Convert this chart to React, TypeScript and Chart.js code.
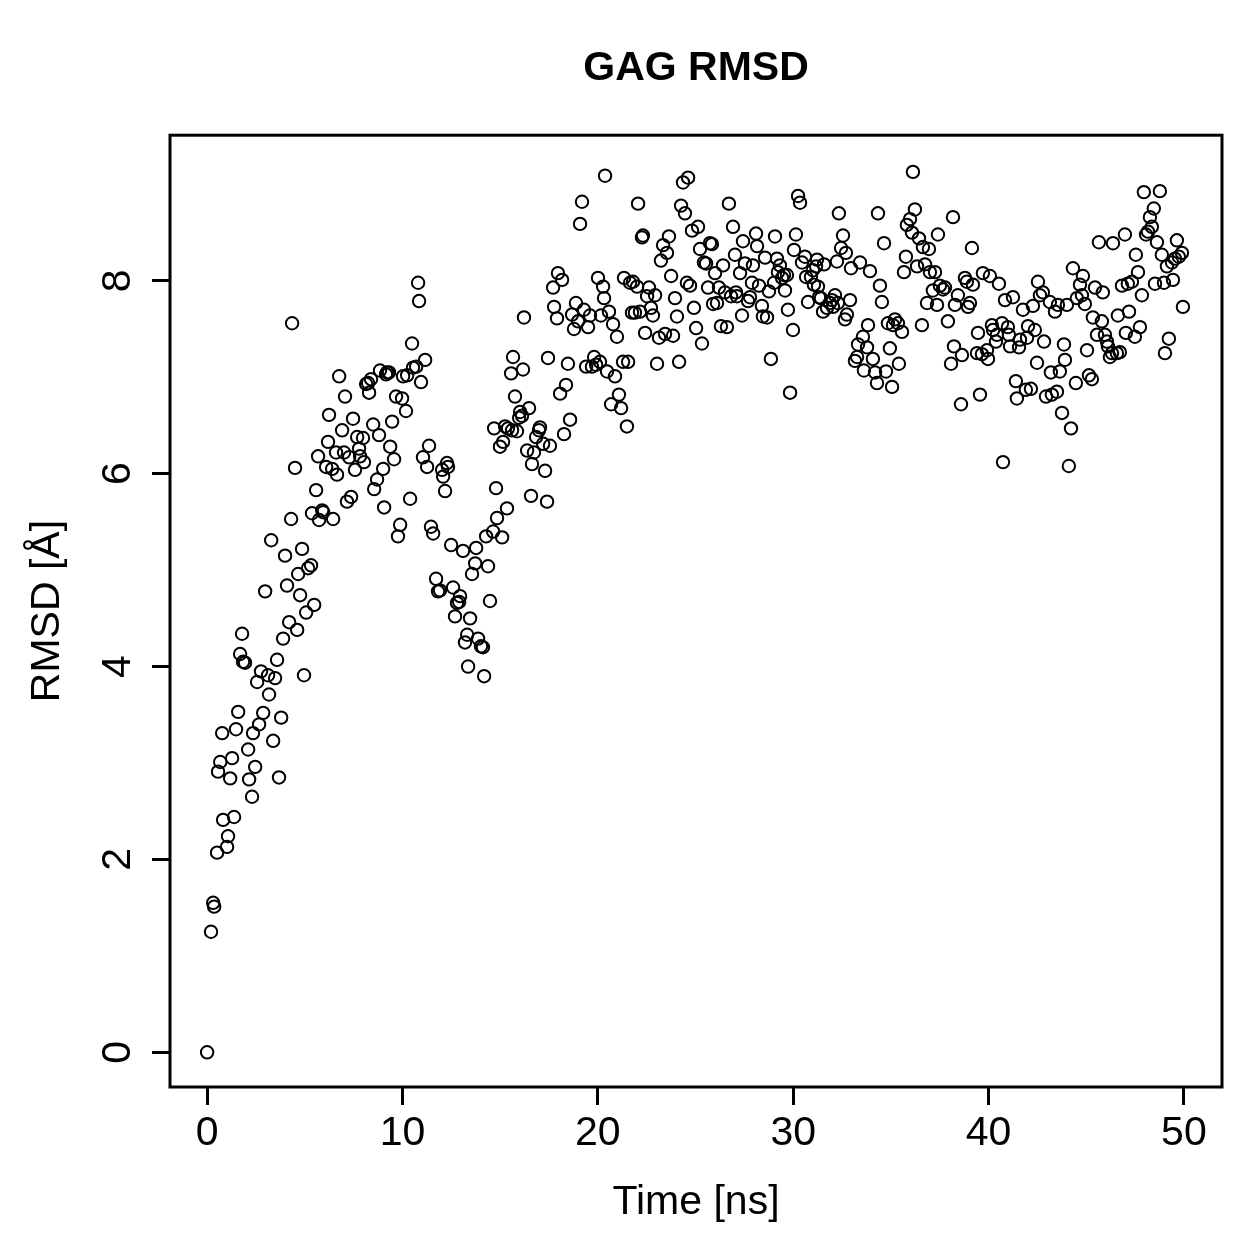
import React, { useEffect, useRef } from "react";
import { Chart, registerables } from "chart.js";

Chart.register(...registerables);

const chartTitle = "GAG RMSD";
const xAxisTitle = "Time [ns]";
const yAxisTitle = "RMSD [Å]";
const xTickValues = [0, 10, 20, 30, 40, 50];
const yTickValues = [0, 2, 4, 6, 8];

const timeNs = [
  0, 0.2, 0.31, 0.36, 0.51, 0.56, 0.67, 0.77, 0.82, 1.02, 1.07, 1.18, 1.28, 1.38, 1.48, 1.59, 1.69, 1.79, 1.84, 1.94,
  2.1, 2.15, 2.3, 2.35, 2.46, 2.56, 2.66, 2.76, 2.87, 2.97, 3.12, 3.17, 3.28, 3.38, 3.48, 3.58, 3.68, 3.79, 3.89, 3.99,
  4.09, 4.2, 4.3, 4.35, 4.5, 4.61, 4.66, 4.76, 4.86, 4.96, 5.07, 5.17, 5.32, 5.37, 5.48, 5.58, 5.68, 5.73, 5.89, 5.94,
  6.09, 6.19, 6.24, 6.4, 6.45, 6.6, 6.65, 6.76, 6.91, 7.01, 7.06, 7.16, 7.27, 7.37, 7.47, 7.57, 7.68, 7.78, 7.83, 7.98,
  8.03, 8.14, 8.24, 8.29, 8.39, 8.5, 8.55, 8.7, 8.8, 8.85, 9.01, 9.06, 9.16, 9.21, 9.31, 9.37, 9.47, 9.57, 9.67, 9.77,
  9.88, 9.98, 10.03, 10.18, 10.24, 10.39, 10.49, 10.54, 10.7, 10.8, 10.85, 10.95, 11.05, 11.16, 11.26, 11.36, 11.46, 11.57, 11.72, 11.82,
  11.92, 12.03, 12.08, 12.18, 12.28, 12.33, 12.49, 12.59, 12.69, 12.79, 12.9, 12.95, 13.1, 13.2, 13.31, 13.36, 13.46, 13.56, 13.72, 13.77,
  13.87, 14.02, 14.12, 14.18, 14.28, 14.38, 14.48, 14.64, 14.69, 14.79, 14.84, 14.99, 15.1, 15.15, 15.25, 15.35, 15.4, 15.56, 15.61, 15.66,
  15.76, 15.86, 15.97, 16.02, 16.12, 16.17, 16.22, 16.38, 16.48, 16.58, 16.63, 16.73, 16.84, 16.99, 17.04, 17.2, 17.3, 17.4, 17.45, 17.55,
  17.71, 17.76, 17.91, 17.96, 18.07, 18.17, 18.27, 18.37, 18.47, 18.58, 18.68, 18.78, 18.88, 18.99, 19.09, 19.19, 19.29, 19.4, 19.5, 19.6,
  19.7, 19.81, 19.91, 20.01, 20.11, 20.16, 20.27, 20.32, 20.37, 20.47, 20.57, 20.68, 20.78, 20.88, 20.98, 21.08, 21.19, 21.29, 21.34, 21.49,
  21.55, 21.65, 21.75, 21.8, 21.9, 22.01, 22.06, 22.16, 22.26, 22.31, 22.42, 22.52, 22.62, 22.72, 22.82, 22.93, 23.03, 23.13, 23.23, 23.34,
  23.44, 23.54, 23.64, 23.75, 23.85, 23.95, 24.05, 24.16, 24.26, 24.36, 24.46, 24.56, 24.62, 24.72, 24.82, 24.92, 25.03, 25.13, 25.23, 25.33,
  25.43, 25.54, 25.64, 25.74, 25.84, 25.9, 26.0, 26.1, 26.2, 26.3, 26.41, 26.51, 26.61, 26.71, 26.82, 26.92, 27.02, 27.07, 27.12, 27.28,
  27.38, 27.43, 27.53, 27.69, 27.79, 27.89, 27.94, 28.1, 28.15, 28.25, 28.4, 28.45, 28.56, 28.66, 28.76, 28.86, 29.02, 29.07, 29.17, 29.22,
  29.32, 29.43, 29.53, 29.58, 29.68, 29.73, 29.84, 29.99, 30.04, 30.14, 30.25, 30.35, 30.45, 30.6, 30.66, 30.76, 30.91, 31.01, 31.06, 31.17,
  31.22, 31.27, 31.32, 31.42, 31.53, 31.58, 31.73, 31.88, 31.99, 32.04, 32.14, 32.24, 32.29, 32.34, 32.45, 32.55, 32.65, 32.7, 32.75, 32.91,
  32.96, 33.16, 33.27, 33.32, 33.42, 33.57, 33.62, 33.78, 33.83, 33.93, 34.08, 34.19, 34.29, 34.34, 34.44, 34.54, 34.65, 34.75, 34.85, 34.95,
  35.06, 35.11, 35.21, 35.36, 35.41, 35.57, 35.67, 35.77, 35.82, 35.98, 36.08, 36.13, 36.23, 36.34, 36.44, 36.59, 36.64, 36.75, 36.85, 36.95,
  37.0, 37.15, 37.26, 37.36, 37.41, 37.51, 37.67, 37.77, 37.92, 38.08, 38.18, 38.23, 38.28, 38.43, 38.59, 38.64, 38.79, 38.89, 38.95, 39.05,
  39.15, 39.2, 39.41, 39.46, 39.56, 39.66, 39.71, 39.92, 39.97, 40.07, 40.17, 40.23, 40.38, 40.43, 40.53, 40.69, 40.74, 40.84, 40.99, 41.04,
  41.1, 41.25, 41.4, 41.45, 41.56, 41.61, 41.76, 41.91, 41.97, 42.02, 42.17, 42.27, 42.37, 42.48, 42.53, 42.63, 42.78, 42.84, 42.94, 43.14,
  43.19, 43.24, 43.4, 43.5, 43.55, 43.65, 43.76, 43.86, 43.91, 44.01, 44.11, 44.22, 44.32, 44.47, 44.52, 44.68, 44.78, 44.83, 44.93, 45.04,
  45.14, 45.29, 45.34, 45.45, 45.55, 45.65, 45.8, 45.85, 45.96, 46.06, 46.11, 46.21, 46.32, 46.37, 46.57, 46.62, 46.72, 46.83, 46.98, 47.03,
  47.13, 47.19, 47.34, 47.49, 47.54, 47.65, 47.75, 47.85, 47.95, 48.06, 48.16, 48.26, 48.36, 48.46, 48.52, 48.62, 48.77, 48.87, 48.98, 49.03,
  49.13, 49.23, 49.39, 49.44, 49.54, 49.64, 49.74, 49.9, 49.95,
];

const rmsdA = [
  0, 1.25, 1.55, 1.51, 2.07, 2.91, 3.01, 3.31, 2.41, 2.13, 2.24, 2.84, 3.05, 2.44, 3.35, 3.53, 4.13, 4.34, 4.05, 4.04,
  3.14, 2.83, 2.65, 3.31, 2.96, 3.84, 3.4, 3.95, 3.52, 4.78, 3.91, 3.71, 5.31, 3.23, 3.88, 4.07, 2.85, 3.47, 4.29, 5.15,
  4.84, 4.46, 5.53, 7.56, 6.06, 4.38, 4.96, 4.74, 5.22, 3.91, 4.56, 5.02, 5.05, 5.59, 4.64, 5.83, 6.18, 5.52, 5.62, 5.6,
  6.07, 6.33, 6.61, 6.05, 5.53, 6.22, 5.99, 7.01, 6.45, 6.22, 6.8, 5.71, 6.17, 5.76, 6.57, 6.04, 6.38, 6.26, 6.18, 6.37,
  6.12, 6.93, 6.94, 6.84, 6.98, 6.51, 5.84, 5.94, 6.4, 7.07, 6.05, 5.65, 7.03, 7.05, 7.05, 6.28, 6.54, 6.15, 6.8, 5.35,
  5.47, 6.78, 7.01, 6.65, 7.02, 5.74, 7.35, 7.1, 7.11, 7.98, 7.79, 6.95, 6.17, 7.18, 6.07, 6.29, 5.45, 5.38, 4.91, 4.78,
  4.79, 6.04, 5.97, 5.82, 6.11, 6.07, 5.26, 4.82, 4.52, 4.66, 4.67, 4.73, 5.2, 4.25, 4.33, 4.0, 4.5, 4.96, 5.07, 5.23,
  4.29, 4.21, 4.2, 3.9, 5.35, 5.04, 4.68, 5.4, 6.47, 5.85, 5.54, 6.28, 5.34, 6.33, 6.49, 5.64, 6.47, 7.04, 6.45, 7.21,
  6.8, 6.44, 6.58, 6.64, 6.6, 7.08, 7.62, 6.24, 6.68, 5.77, 6.1, 6.22, 6.38, 6.45, 6.48, 6.31, 6.03, 5.71, 7.2, 6.29,
  7.93, 7.73, 7.61, 8.08, 6.83, 8.01, 6.41, 6.92, 7.14, 6.56, 7.65, 7.5, 7.77, 7.58, 8.59, 8.82, 7.7, 7.11, 7.52, 7.64,
  7.11, 7.21, 7.13, 8.03, 7.16, 7.64, 7.94, 7.82, 9.09, 7.06, 7.68, 6.72, 7.55, 7.01, 7.42, 6.82, 6.68, 7.16, 8.03, 6.49,
  7.16, 7.98, 7.67, 7.99, 7.67, 7.94, 8.8, 7.68, 8.45, 8.47, 7.46, 7.84, 7.93, 7.72, 7.64, 7.85, 7.14, 7.41, 8.21, 8.37,
  7.45, 8.29, 8.46, 8.05, 7.43, 7.82, 7.63, 7.16, 8.78, 9.02, 8.7, 7.98, 9.07, 7.95, 8.52, 7.72, 7.51, 8.56, 8.33, 7.35,
  8.19, 8.18, 7.93, 8.39, 8.38, 7.76, 8.08, 7.77, 7.93, 7.53, 8.16, 7.88, 7.52, 8.8, 7.84, 8.56, 8.27, 7.88, 7.84, 8.08,
  7.64, 8.41, 8.18, 7.79, 7.83, 7.98, 8.16, 8.49, 8.36, 7.95, 7.74, 7.63, 8.24, 7.62, 7.89, 7.19, 7.98, 8.46, 8.23, 8.09,
  8.16, 8.03, 8.06, 7.9, 8.06, 7.7, 6.84, 7.49, 8.32, 8.48, 8.88, 8.81, 8.19, 8.25, 8.04, 7.78, 8.04, 8.11, 7.96, 8.15,
  8.22, 7.94, 7.83, 7.82, 7.68, 8.17, 7.72, 7.77, 7.8, 7.73, 7.85, 8.2, 7.77, 8.7, 8.34, 8.47, 7.6, 8.29, 7.65, 7.8,
  8.13, 7.17, 7.21, 7.34, 8.19, 7.42, 7.07, 7.31, 7.54, 8.1, 7.19, 7.05, 6.94, 8.7, 7.95, 7.78, 8.39, 7.06, 7.56, 7.3,
  6.9, 7.54, 7.6, 7.56, 7.14, 7.47, 8.09, 8.25, 8.58, 8.64, 8.5, 9.13, 8.74, 8.15, 8.44, 7.54, 8.35, 8.17, 7.77, 8.33,
  8.09, 7.9, 8.09, 7.75, 8.48, 7.95, 7.91, 7.93, 7.58, 7.14, 8.66, 7.32, 7.75, 7.85, 6.72, 7.23, 8.03, 7.99, 7.73, 7.77,
  8.34, 7.96, 7.25, 7.46, 6.82, 7.24, 8.08, 7.28, 7.19, 8.05, 7.54, 7.49, 7.37, 7.44, 7.97, 7.56, 6.12, 7.8, 7.52, 7.44,
  7.32, 7.83, 6.96, 6.78, 7.31, 7.39, 7.7, 6.87, 7.41, 7.53, 6.88, 7.74, 7.49, 7.15, 7.99, 7.85, 7.88, 7.37, 6.8, 7.78,
  7.05, 6.82, 7.68, 6.85, 7.75, 7.06, 6.63, 7.34, 7.18, 7.75, 6.08, 6.47, 8.13, 6.94, 7.82, 7.96, 7.85, 8.05, 7.76, 7.28,
  7.02, 6.98, 7.62, 7.93, 7.44, 8.4, 7.58, 7.88, 7.44, 7.37, 7.32, 7.21, 7.25, 8.39, 7.25, 7.64, 7.26, 7.95, 8.48, 7.46,
  7.97, 7.68, 7.99, 7.42, 8.27, 8.09, 7.52, 7.85, 8.92, 8.48, 8.51, 8.66, 8.56, 8.75, 7.97, 8.4, 8.93, 8.27, 7.98, 7.25,
  8.15, 7.4, 8.19, 8.01, 8.23, 8.42, 8.25, 8.29, 7.73,
];

const FONT = '"Liberation Sans", Arial, Helvetica, sans-serif';

const boxPlugin = {
  id: "rBox",
  afterDraw(chart: any) {
    const { ctx, chartArea } = chart;
    ctx.save();
    ctx.strokeStyle = "#000";
    ctx.lineWidth = 3;
    ctx.strokeRect(chartArea.left, chartArea.top, chartArea.right - chartArea.left, chartArea.bottom - chartArea.top);
    // rotated y tick labels (R style, parallel to axis)
    const ys = chart.scales.y;
    ctx.fillStyle = "#000";
    ctx.font = `41px ${FONT}`;
    ctx.textAlign = "center";
    ctx.textBaseline = "alphabetic";
    for (const t of ys.ticks) {
      const py = ys.getPixelForValue(t.value);
      ctx.save();
      ctx.translate(130, py);
      ctx.rotate(-Math.PI / 2);
      ctx.fillText(String(t.value), 0, 0);
      ctx.restore();
    }
    ctx.restore();
  },
};

export default function App() {
  const ref = useRef<HTMLCanvasElement | null>(null);
  useEffect(() => {
    if (!ref.current) return;
    Chart.defaults.color = "#000";
    Chart.defaults.font.family = FONT;
    const points = timeNs.map((t, i) => ({ x: t, y: rmsdA[i] }));
    const chart = new Chart(ref.current, {
      type: "scatter",
      data: {
        datasets: [
          {
            data: points,
            pointStyle: "circle",
            pointRadius: 6.2,
            pointHoverRadius: 6.2,
            pointBorderWidth: 2,
            borderColor: "#000",
            backgroundColor: "rgba(0,0,0,0)",
            pointBackgroundColor: "rgba(0,0,0,0)",
            pointBorderColor: "#000",
          },
        ],
      },
      options: {
        responsive: false,
        animation: false,
        devicePixelRatio: 1,
        events: [],
        layout: { padding: { left: 0, right: 37, top: 0, bottom: 0 } },
        plugins: {
          legend: { display: false },
          tooltip: { enabled: false },
          title: {
            display: true,
            fullSize: false,
            text: chartTitle,
            color: "#000",
            font: { size: 41, weight: "bold", family: FONT },
            padding: { top: 44, bottom: 42 },
          },
        },
        scales: {
          x: {
            type: "linear",
            min: -1.9,
            max: 51.95,
            afterBuildTicks: (scale: any) => {
              scale.ticks = xTickValues.map((v) => ({ value: v }));
            },
            afterFit: (scale: any) => {
              scale.height = 172;
            },
            ticks: {
              color: "#000",
              font: { size: 41, family: FONT },
              padding: 4,
              maxRotation: 0,
              minRotation: 0,
              autoSkip: false,
            },
            grid: {
              drawOnChartArea: false,
              drawTicks: true,
              tickLength: 18,
              color: "#000",
              lineWidth: 3,
            },
            border: { display: false },
            title: {
              display: true,
              text: xAxisTitle,
              color: "#000",
              font: { size: 41, family: FONT },
              padding: { top: 0, bottom: 32 },
            },
          },
          y: {
            type: "linear",
            min: -0.36,
            max: 9.51,
            afterBuildTicks: (scale: any) => {
              scale.ticks = yTickValues.map((v) => ({ value: v }));
            },
            afterFit: (scale: any) => {
              scale.width = 170;
            },
            ticks: { display: false },
            grid: {
              drawOnChartArea: false,
              drawTicks: true,
              tickLength: 18,
              color: "#000",
              lineWidth: 3,
            },
            border: { display: false },
            title: {
              display: true,
              text: yAxisTitle,
              color: "#000",
              font: { size: 41, family: FONT },
              padding: { top: 23, bottom: 0 },
            },
          },
        },
      },
      plugins: [boxPlugin],
    });
    return () => chart.destroy();
  }, []);

  return (
    <div style={{ position: "absolute", left: 0, top: 0, width: 1259, height: 1259, background: "#fff" }}>
      <canvas ref={ref} width={1259} height={1259} style={{ display: "block", width: 1259, height: 1259 }} />
    </div>
  );
}
